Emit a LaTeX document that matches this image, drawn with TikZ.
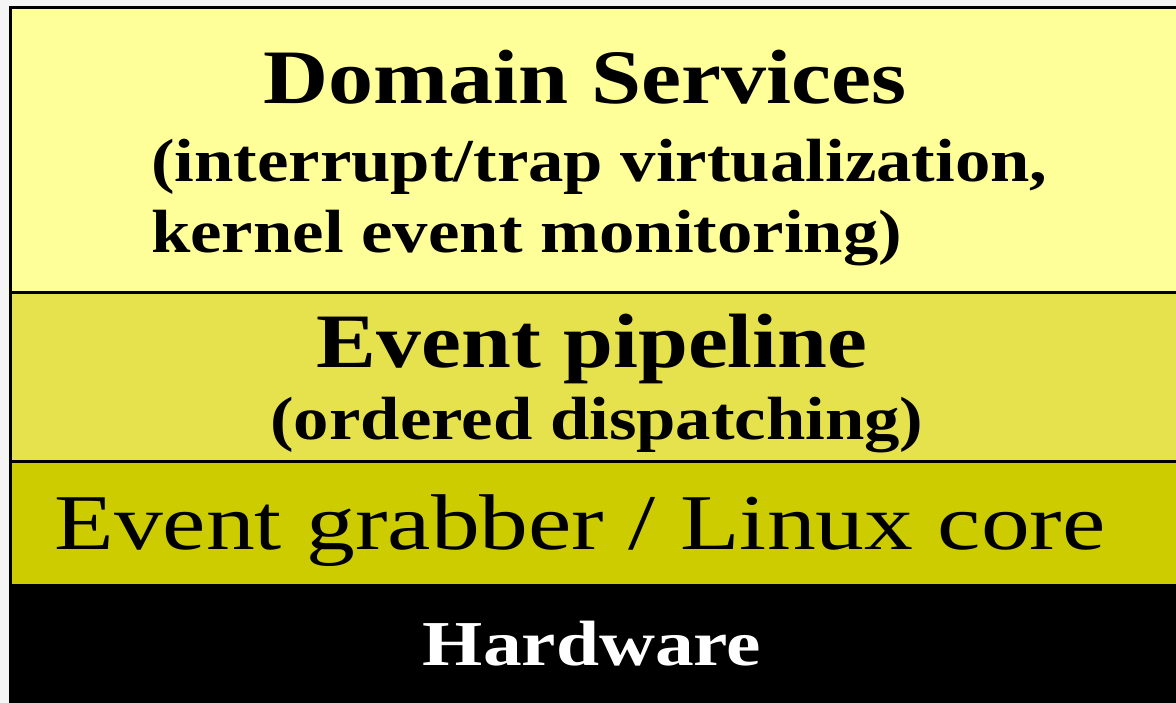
\documentclass[tikz,border=0pt]{standalone}
\usepackage{fontspec}
\setmainfont{Liberation Serif}
\definecolor{servicesfill}{HTML}{FFFF99}
\definecolor{pipelinefill}{HTML}{E6E24E}
\definecolor{grabberfill}{HTML}{CCCC00}
\definecolor{pagegray}{HTML}{F5F5F5}

\begin{document}
\begin{tikzpicture}[%
      x=1pt, y=-1pt,
      frame/.style={color=black, line width=3.4pt},
      label/.style={inner sep=0pt, anchor=base, transform shape},
      ]
      \useasboundingbox (0,0) rectangle (1176,703);
      \clip (0,0) rectangle (1176,703);
      \fill [color=pagegray] (0,0) rectangle (1176,703);

      \fill [color=servicesfill] (10,7) rectangle (1180,292);
      \fill [color=pipelinefill] (10,292) rectangle (1180,462);
      \fill [color=grabberfill] (10,462) rectangle (1180,584);
      \fill [color=black] (9,584) rectangle (1180,710);

      \draw [frame] (10.5,710) -- (10.5,7.5) -- (1180,7.5);
      \draw [frame] (10.5,292.5) -- (1180,292.5);
      \draw [frame] (10.5,461.5) -- (1180,461.5);

      \node [label, font=\bfseries\fontsize{77}{80}\selectfont, xscale=1.17] (services) at (585,104) {Domain Services};
      \node [label, anchor=base west, font=\bfseries\fontsize{61}{64}\selectfont, xscale=1.16] (servicesa) at (151,182) {(interrupt/trap virtualization,};
      \node [label, anchor=base west, font=\bfseries\fontsize{61}{64}\selectfont, xscale=1.16] (servicesb) at (151,253) {kernel event monitoring)};

      \node [label, font=\bfseries\fontsize{77}{80}\selectfont, xscale=1.165] (pipeline) at (592,368) {Event pipeline};
      \node [label, font=\bfseries\fontsize{61}{64}\selectfont, xscale=1.16] (pipelinea) at (597,439) {(ordered dispatching)};

      \node [label, font=\fontsize{79}{82}\selectfont, xscale=1.235] (grabber) at (580,549) {Event grabber / Linux core};

      \node [label, color=white, font=\bfseries\fontsize{64}{66}\selectfont, xscale=1.21] (hardware) at (592,665) {Hardware};
      \end{tikzpicture}
\end{document}
